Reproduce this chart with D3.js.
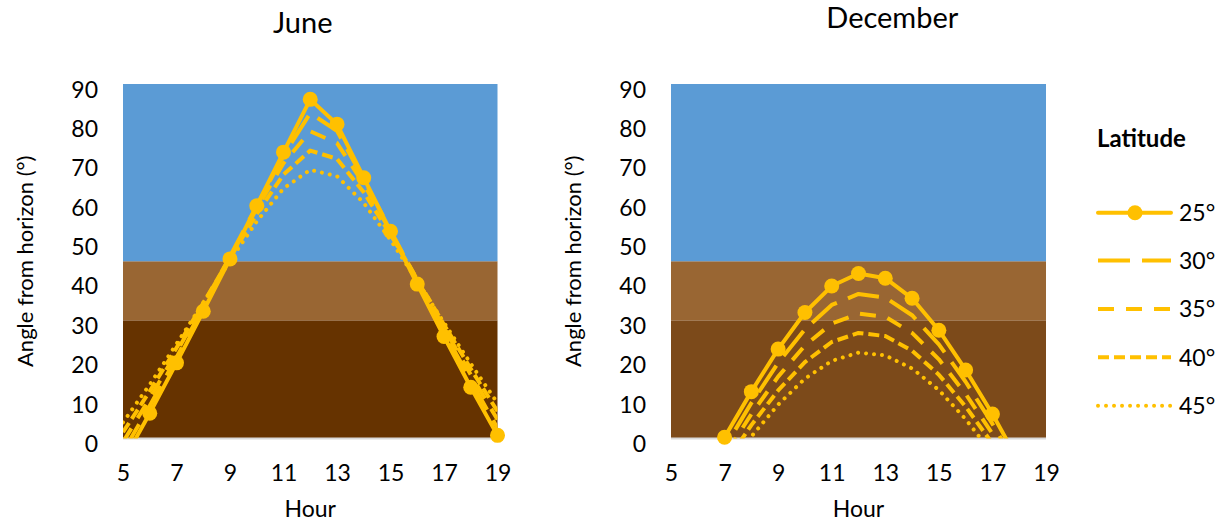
<!DOCTYPE html>
<html>
<head>
<meta charset="utf-8">
<script src="https://cdn.jsdelivr.net/npm/d3@7"></script>
<style>
  html, body { margin: 0; padding: 0; background: #fff; }
  svg { display: block; font-family: Lato, "Open Sans", sans-serif; }
</style>
</head>
<body>
<svg id="chart" width="1219" height="521"></svg>
<script>
// ---- data ----
const hours = [5, 6, 7, 8, 9, 10, 11, 12, 13, 14, 15, 16, 17, 18, 19];
const latitudes = ["25°", "30°", "35°", "40°", "45°"];

const june25 = [-5.8, 6.4, 19.2, 32.3, 45.6, 59.1, 72.7, 86.1, 79.8, 66.2, 52.6, 39.2, 25.9, 13.0, 0.8];
const june30 = [-3.4, 8.3, 20.6, 33.3, 46.2, 59.1, 71.9, 82.6, 78.1, 65.8, 52.9, 39.9, 27.1, 14.7, 2.6];
const june35 = [-0.9, 10.2, 21.9, 34.0, 46.2, 58.4, 69.9, 78.0, 75.0, 64.6, 52.6, 40.3, 28.1, 16.2, 4.8];
const june40 = [1.6, 12.0, 23.0, 34.4, 45.9, 57.0, 67.0, 73.1, 71.0, 62.5, 51.8, 40.4, 28.9, 17.7, 6.9];
const june45 = [4.1, 13.7, 24.0, 34.5, 45.1, 55.1, 63.5, 68.2, 66.6, 59.8, 50.4, 40.0, 29.4, 19.0, 9.0];

const dec25 = [-25.6, -12.7, 0.3, 11.9, 22.7, 32.0, 38.7, 41.9, 40.7, 35.6, 27.5, 17.4, 6.2, -6.1, -18.9];
const dec30 = [-27.0, -14.5, -2.3, 9.0, 19.2, 27.7, 33.9, 36.7, 35.8, 31.3, 23.9, 14.4, 3.7, -8.0, -20.3];
const dec35 = [-27.8, -15.9, -4.5, 6.2, 15.7, 23.6, 29.2, 31.7, 30.9, 26.8, 20.1, 11.3, 1.2, -9.9, -21.6];
const dec40 = [-28.6, -17.4, -6.6, 3.4, 12.2, 19.4, 24.5, 26.8, 26.0, 22.3, 16.2, 8.1, -1.3, -11.7, -22.7];
const dec45 = [-29.1, -18.7, -8.7, 0.5, 8.6, 15.2, 19.7, 21.8, 21.1, 17.8, 12.3, 4.9, -3.8, -13.4, -23.7];

const xTicks = [5, 7, 9, 11, 13, 15, 17, 19];
const yTicks = [0, 10, 20, 30, 40, 50, 60, 70, 80, 90];
const bandBreaks = [0, 30, 45, 90];

// ---- styles ----
const gold = "#FFC000";
const seriesStyle = [
  { dash: null, cap: "round", marker: true },
  { dash: "32 12", cap: "butt", marker: false },
  { dash: "16 12", cap: "butt", marker: false },
  { dash: "11 5", cap: "butt", marker: false },
  { dash: "0.01 8", cap: "round", marker: false }
];
const lineW = 4;

const svg = d3.select("#chart");

const panels = [
  { title: "June", series: [june25, june30, june35, june40, june45], left: 123, right: 497.5,
    titleX: 302.7, titleY: 33.3, bands: ["#663300", "#996633", "#5B9BD5"], yTitleX: 33 },
  { title: "December", series: [dec25, dec30, dec35, dec40, dec45], left: 671, right: 1046,
    titleX: 892.3, titleY: 28.3, bands: ["#7C4A1A", "#996633", "#5B9BD5"], yTitleX: 581 }
];
const plotTop = 84, plotBottom = 438.5;

panels.forEach((p, pi) => {
  const x = d3.scaleLinear().domain([5, 19]).range([p.left, p.right]);
  const y = d3.scaleLinear().domain([0, 90]).range([plotBottom, plotTop]);
  const g = svg.append("g");

  // background bands
  for (let i = 0; i < 3; i++) {
    g.append("rect")
      .attr("x", x(5)).attr("width", x(19) - x(5))
      .attr("y", y(bandBreaks[i + 1])).attr("height", y(bandBreaks[i]) - y(bandBreaks[i + 1]))
      .attr("fill", p.bands[i]);
  }

  // x axis line
  g.append("line")
    .attr("x1", x(5)).attr("x2", x(19)).attr("y1", y(0)).attr("y2", y(0))
    .attr("stroke", "#D9D9D9").attr("stroke-width", 2);

  // y axis
  const ya = g.append("g").attr("transform", `translate(${x(5)},0)`)
    .call(d3.axisLeft(y).tickValues(yTicks).tickSize(0).tickPadding(25));
  ya.select(".domain").remove();
  ya.selectAll("text").attr("font-size", 23).attr("fill", "#000")
    .attr("font-family", "Lato, sans-serif").attr("dy", 13);

  // x axis
  const xa = g.append("g").attr("transform", `translate(0,${y(0)})`)
    .call(d3.axisBottom(x).tickValues(xTicks).tickSize(0));
  xa.select(".domain").remove();
  xa.selectAll("text").attr("font-size", 23).attr("fill", "#000")
    .attr("font-family", "Lato, sans-serif").attr("y", 42).attr("dy", 0);

  // titles
  g.append("text").attr("x", p.titleX).attr("y", p.titleY).attr("text-anchor", "middle")
    .attr("font-size", 29).text(p.title);
  g.append("text").attr("x", (x(5) + x(19)) / 2).attr("y", 517).attr("text-anchor", "middle")
    .attr("font-size", 23).text("Hour");
  g.append("text").attr("transform", `translate(${p.yTitleX},${(y(0) + y(90)) / 2}) rotate(-90)`)
    .attr("text-anchor", "middle").attr("font-size", 22).text("Angle from horizon (°)");

  // clip
  const clipId = "clip" + pi;
  svg.append("clipPath").attr("id", clipId).append("rect")
    .attr("x", x(5)).attr("y", y(90)).attr("width", x(19) - x(5)).attr("height", y(0) - y(90));

  const line = d3.line().x((d, i) => x(hours[i])).y(d => y(d));

  p.series.forEach((vals, si) => {
    const st = seriesStyle[si];
    g.append("path").datum(vals)
      .attr("clip-path", `url(#${clipId})`)
      .attr("d", line)
      .attr("fill", "none").attr("stroke", gold).attr("stroke-width", lineW)
      .attr("stroke-linejoin", "round").attr("stroke-linecap", st.cap)
      .attr("stroke-dasharray", st.dash);
    if (st.marker) {
      g.selectAll(null).data(vals.map((v, i) => ({ h: hours[i], v })).filter(d => d.v >= 0 && d.v <= 90))
        .enter().append("circle")
        .attr("cx", d => x(d.h)).attr("cy", d => y(d.v)).attr("r", 7.5).attr("fill", gold);
    }
  });
});

// legend
const lg = svg.append("g");
lg.append("text").attr("x", 1097).attr("y", 146.7).attr("font-size", 24).attr("font-weight", "bold").text("Latitude");
const legendY = [212.7, 260.5, 309, 357.3, 405.7];
latitudes.forEach((lab, i) => {
  const st = seriesStyle[i];
  lg.append("line").attr("x1", 1098).attr("x2", 1171).attr("y1", legendY[i]).attr("y2", legendY[i])
    .attr("stroke", gold).attr("stroke-width", lineW).attr("stroke-linecap", st.cap)
    .attr("stroke-dasharray", st.dash);
  if (st.marker) lg.append("circle").attr("cx", 1135).attr("cy", legendY[i]).attr("r", 7.5).attr("fill", gold);
  lg.append("text").attr("x", 1179).attr("y", legendY[i]).attr("dy", "0.36em").attr("font-size", 23).text(lab);
});
</script>
</body>
</html>
